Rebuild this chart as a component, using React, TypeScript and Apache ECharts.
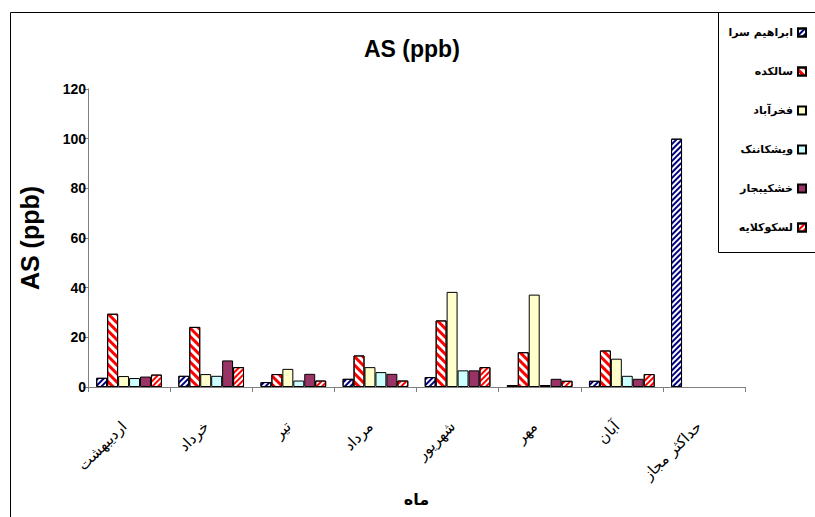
import React, { useEffect, useRef } from "react";
import * as echarts from "echarts";

const categories = ["اردیبهشت", "خرداد", "تیر", "مرداد", "شهریور", "مهر", "آبان", "حداکثر مجاز"];
const seriesNames = ["ابراهیم سرا", "سالکده", "فخرآباد", "ویشکاننک", "خشکیبجار", "لسکوکلایه"];
const ebrahimSara = [3.7, 4.5, 2.0, 3.3, 4.0, 0.8, 2.5, 100];
const salkadeh = [29.5, 24.2, 5.2, 12.7, 26.8, 14.0, 14.7, null];
const fakhrabad = [4.4, 5.2, 7.3, 8.0, 38.3, 37.2, 11.4, null];
const vishkanank = [3.6, 4.5, 2.6, 6.0, 6.7, 0.8, 4.5, null];
const khoshkebijar = [4.2, 10.7, 5.3, 5.3, 6.7, 3.3, 3.3, null];
const laskoklayeh = [5.0, 8.0, 2.6, 2.6, 8.0, 2.5, 5.2, null];
const yTicks = { min: 0, max: 120, interval: 20 };

const seriesData = [ebrahimSara, salkadeh, fakhrabad, vishkanank, khoshkebijar, laskoklayeh];

const stripe = (color: string, w: number, gap: number, rot: number) => ({
  symbol: "rect",
  symbolSize: 1,
  dashArrayX: [1, 0],
  dashArrayY: [w, gap],
  rotation: rot,
  color,
});

const styles: any[] = [
  { color: "#ffffff", decal: stripe("#000080", 2, 2, -Math.PI / 4) },
  { color: "#ffffff", decal: stripe("#ff0000", 3, 3, Math.PI / 4) },
  { color: "#ffffcc" },
  { color: "#ccffff" },
  { color: "#993366" },
  { color: "#ffffff", decal: stripe("#ff0000", 2, 2, -Math.PI / 4) },
];

export default function App() {
  const ref = useRef<HTMLDivElement>(null);
  useEffect(() => {
    const chart = echarts.init(ref.current!, null, { renderer: "svg" });
    chart.setOption({
      animation: false,
      backgroundColor: "#ffffff",
      title: {
        text: "AS (ppb)",
        left: 364,
        top: 37,
        padding: 0,
        textStyle: { fontFamily: "Liberation Sans, Arial", fontWeight: "bold", fontSize: 23, color: "#000" },
      },
      legend: {
        orient: "vertical",
        right: 8,
        top: 26,
        padding: 0,
        align: "right",
        itemWidth: 8,
        itemHeight: 8,
        itemGap: 26,
        icon: "rect",
        data: seriesNames,
        textStyle: { fontFamily: "DejaVu Sans", fontWeight: "bold", fontSize: 11, lineHeight: 13, color: "#000" },
      },
      grid: { left: 88, right: 70, top: 89, bottom: 130, containLabel: false },
      xAxis: {
        type: "category",
        data: categories,
        name: "ماه",
        nameLocation: "middle",
        nameGap: 104,
        nameTextStyle: { fontFamily: "DejaVu Sans", fontWeight: "bold", fontSize: 16, color: "#000" },
        axisLine: { lineStyle: { color: "#808080", width: 1 } },
        axisTick: { show: true, alignWithLabel: false, length: 5, lineStyle: { color: "#808080" } },
        axisLabel: { rotate: 45, margin: 32, padding: [0, 7, 0, 0], fontFamily: "DejaVu Sans", fontSize: 15, color: "#000", interval: 0 },
      },
      yAxis: {
        type: "value",
        min: yTicks.min,
        max: yTicks.max,
        interval: yTicks.interval,
        name: "AS (ppb)",
        nameLocation: "middle",
        nameGap: 46,
        nameTextStyle: { fontFamily: "Liberation Sans, Arial", fontWeight: "bold", fontSize: 25, color: "#000" },
        axisLine: { show: true, lineStyle: { color: "#808080", width: 1 } },
        axisTick: { show: true, length: 5, lineStyle: { color: "#808080" } },
        axisLabel: { margin: 2, fontFamily: "Liberation Sans, Arial", fontWeight: "bold", fontSize: 14, color: "#000" },
        splitLine: { show: false },
      },
      graphic: [
        { type: "rect", shape: { x: 10.5, y: 12.5, width: 830, height: 530 }, style: { fill: "none", stroke: "#000", lineWidth: 1 }, silent: true, z: -1 },
        { type: "rect", shape: { x: 718.5, y: 12.5, width: 120, height: 240 }, style: { fill: "none", stroke: "#000", lineWidth: 1 }, silent: true },
      ],
      series: seriesNames.map((name, i) => ({
        name,
        type: "bar",
        data: seriesData[i],
        barGap: "0%",
        barCategoryGap: "20%",
        itemStyle: { ...styles[i], borderColor: "#000", borderWidth: 1 },
      })),
    });
    return () => chart.dispose();
  }, []);
  return <div ref={ref} style={{ position: "absolute", left: 0, top: 0, width: 815, height: 517 }} />;
}
